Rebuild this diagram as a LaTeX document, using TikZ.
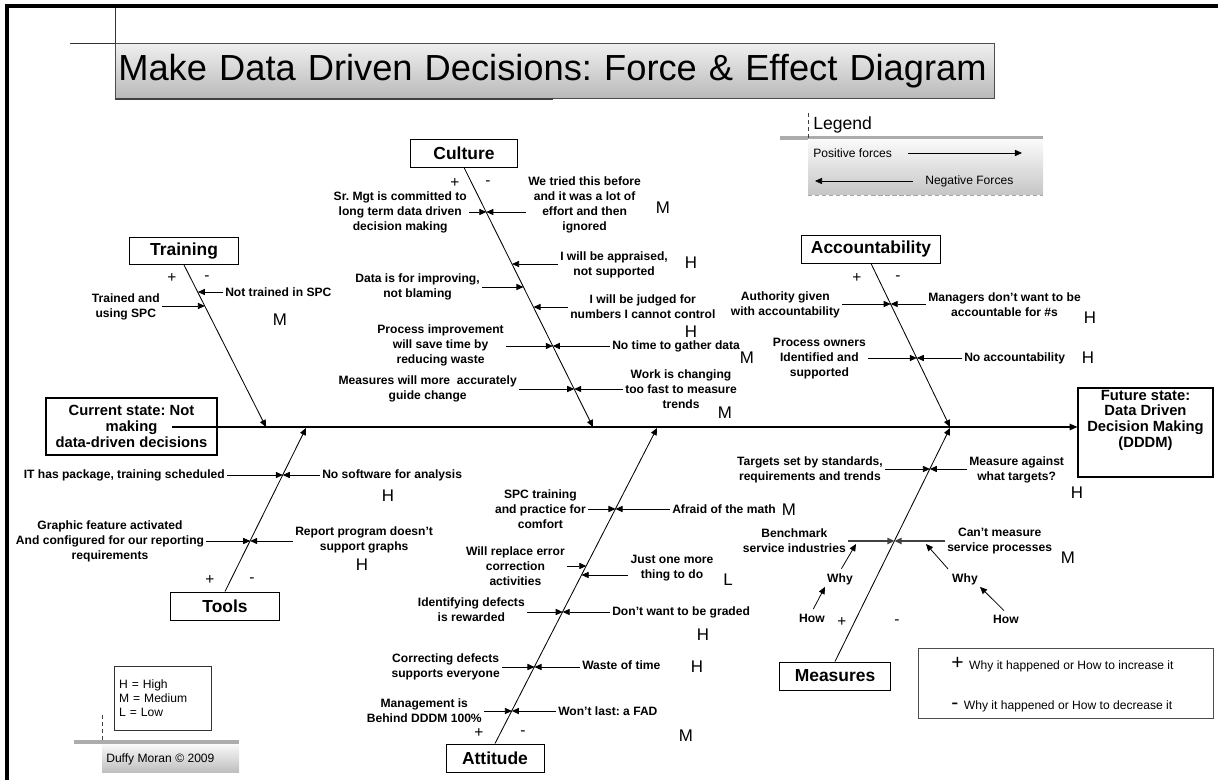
\documentclass[tikz,border=0pt]{standalone}
\usepackage{fontspec}
\setmainfont{Liberation Sans}
\usepackage{tikz}
\usetikzlibrary{arrows.meta,positioning,calc}
\frenchspacing

\newlength{\pxl}
\setlength{\pxl}{0.025cm}

\tikzset{
    titlebox/.style={anchor=north west, draw=gray!60!black, line width=0.5pt, top color=gray!12, bottom color=gray!55,
        minimum width=879\pxl, minimum height=55\pxl, text width=873\pxl, inner xsep=3\pxl, inner ysep=0pt,
        align=left, font=\fontsize{25.8}{30}\selectfont},
    catbox/.style={draw, line width=0.7pt, fill=white, inner sep=0pt, minimum height=28\pxl, font=\bfseries\fontsize{12.4}{14}\selectfont},
    statebox/.style={draw, line width=0.8pt, fill=white, inner sep=0pt, align=center, font=\bfseries\fontsize{10.5}{11.2}\selectfont},
    lbl/.style={inner sep=1.4pt, align=center, font=\bfseries\fontsize{8.6}{10.7}\selectfont},
    note/.style={inner sep=0pt, font=\fontsize{8.6}{10}\selectfont},
    rate/.style={inner sep=0pt, font=\fontsize{12}{14}\selectfont},
    sgn/.style={inner sep=0pt, font=\fontsize{11}{13}\selectfont},
    spine/.style={-{Triangle[length=5.5pt,width=4.6pt]}, line width=0.8pt},
    bone/.style={-{Triangle[length=5pt,width=4.4pt]}, line width=0.6pt},
    frc/.style={-{Triangle[length=5pt,width=4.4pt]}, line width=0.55pt},
}

\begin{document}
\begin{tikzpicture}[x=\pxl, y=-\pxl]
        \useasboundingbox (0,0) rectangle (1218,780);
        \draw[line width=2.2pt] (7,780) -- (7,6) -- (1218,6); % frame

        % title
        \node[titlebox] (ttl) at (115,43) {\mbox{Make Data Driven Decisions: Force \& Effect Diagram}};
        \draw[gray!40!black, line width=0.6pt] (70,43) -- (ttl.north west) -- (115,8);
        \draw[black!75, line width=1.4pt] (ttl.south west) -- ++(438,0);

        % legend
        \draw[gray!65, line width=2.8pt] (780,138) -- (1043,138);
        \shade[top color=gray!4, bottom color=gray!45] (808,140) rectangle (1043,195);
        \draw[densely dashed, gray!50!black, line width=0.4pt] (808,113) -- (808,140);
        \draw[densely dashed, gray!70, line width=0.4pt] (808,195) -- (1043,195);
        \node[anchor=west, inner sep=0pt, font=\fontsize{12.5}{14}\selectfont] (lgd) at (813,125) {Legend};
        \node[note, anchor=west] (pos) at (813,153) {Positive forces};
        \node[note, anchor=west] (neg) at (925,181) {Negative Forces};
        \coordinate (pa) at (1022,153);
        \coordinate (na) at (815,181);
        \draw[frc] (pos.east) ++(16,0) -- (pa);
        \draw[frc] (neg.west) ++(-12,0) -- (na);

        % categories
        \node[catbox, minimum width=107\pxl] (cul) at (464,153) {Culture};
        \node[catbox, minimum width=109\pxl, minimum height=27\pxl] (trn) at (184,251) {Training};
        \node[catbox, minimum width=139\pxl] (acc) at (871,249) {Accountability};
        \node[catbox, minimum width=109\pxl] (tls) at (225,606) {Tools};
        \node[catbox, minimum width=98\pxl] (att) at (495,758) {Attitude};
        \node[catbox, minimum width=111\pxl] (msr) at (835,676) {Measures};

        % current and future state
        \node[statebox, minimum width=171\pxl, minimum height=57\pxl] (cur) at (131.5,426.5) {Current state: Not\\making\\data-driven decisions};
        \node[statebox, minimum width=135\pxl, minimum height=89\pxl] (fut) at (1145.5,432.5) {};
        \node[statebox, draw=none, fill=none, anchor=north] (futt) at ([yshift=-2\pxl]fut.north) {Future state:\\Data Driven\\Decision Making\\(DDDM)};
        \coordinate (sp0) at (172,427);
        \draw[spine] (sp0) -- (fut.west |- sp0);

        % bones
        \coordinate (trnE) at (266,427);
        \coordinate (culE) at (593,427);
        \coordinate (accE) at (950,427);
        \coordinate (tlsE) at (306,428);
        \coordinate (attE) at (657,428);
        \coordinate (msrE) at (950,428);
        \draw[bone] (trn.south) -- (trnE);
        \draw[bone] (cul.south) -- (culE);
        \draw[bone] (acc.south) -- (accE);
        \draw[bone] (tls.north) -- (tlsE);
        \draw[bone] (att.north) -- (attE);
        \draw[bone] (msr.north) -- (msrE);

        % points on the bones
        \coordinate (c1) at (486.3,212);
        \coordinate (c2) at (512.1,264);
        \coordinate (c3) at (523.5,287);
        \coordinate (c4) at (533.5,307);
        \coordinate (c5) at (552.8,346);
        \coordinate (c6) at (574.2,389);
        \coordinate (t1) at (197.9,292);
        \coordinate (t2) at (204.9,306);
        \coordinate (a1) at (890.7,304);
        \coordinate (a2) at (916.8,358);
        \coordinate (o1) at (282.8,475);
        \coordinate (o2) at (250.2,541);
        \coordinate (k1) at (615.5,509);
        \coordinate (k2) at (586.3,566);
        \coordinate (k3) at (581.6,575);
        \coordinate (k4) at (562.7,612);
        \coordinate (k5) at (534.5,667);
        \coordinate (k6) at (511.9,711);
        \coordinate (m1) at (929.9,469);
        \coordinate (m2) at (894.5,541);

        % culture forces
        \node[lbl, anchor=east] (sr) at (469,212) {Sr. Mgt is committed to\\long term data driven\\decision making};
        \node[lbl, anchor=west] (wt) at (526,204.5) {We tried this before\\and it was a lot of\\effort and then\\ignored};
        \node[lbl, anchor=west] (app) at (558,264.5) {I will be appraised,\\not supported};
        \node[lbl, anchor=east] (dat) at (482,287) {Data is for improving,\\not blaming};
        \node[lbl, anchor=west] (jud) at (568,307) {I will be judged for\\numbers I cannot control};
        \node[lbl, anchor=east] (pim) at (506,345) {Process improvement\\will save time by\\reducing waste};
        \node[lbl, anchor=west] (ntg) at (610,346) {No time to gather data};
        \node[lbl, anchor=east] (mea) at (519,389) {Measures will more\ \ accurately\\guide change};
        \node[lbl, anchor=west] (wch) at (623,389) {Work is changing\\too fast to measure\\trends};
        \draw[frc] (sr.east |- c1) -- (c1);
        \draw[frc] (wt.west |- c1) -- (c1);
        \draw[frc] (app.west |- c2) -- (c2);
        \draw[frc] (dat.east |- c3) -- (c3);
        \draw[frc] (jud.west |- c4) -- (c4);
        \draw[frc] (pim.east |- c5) -- (c5);
        \draw[frc] (ntg.west |- c5) -- (c5);
        \draw[frc] (mea.east |- c6) -- (c6);
        \draw[frc] (wch.west |- c6) -- (c6);

        % training forces
        \node[lbl, anchor=east] (trd) at (162,306.5) {Trained and\\using SPC};
        \node[lbl, anchor=west] (ntr) at (223,292) {Not trained in SPC};
        \draw[frc] (trd.east |- t2) -- (t2);
        \draw[frc] (ntr.west |- t1) -- (t1);

        % tools forces
        \node[lbl, anchor=east] (itp) at (227,475) {IT has package, training scheduled};
        \node[lbl, anchor=west] (nsw) at (320,475) {No software for analysis};
        \node[lbl] (gfa) at (110,541) {Graphic feature activated\\And configured for our reporting\\requirements};
        \node[lbl, anchor=west] (rpd) at (293,540) {Report program doesn’t\\support graphs};
        \draw[frc] (itp.east |- o1) -- (o1);
        \draw[frc] (nsw.west |- o1) -- (o1);
        \draw[frc] (gfa.east |- o2) -- (o2);
        \draw[frc] (rpd.west |- o2) -- (o2);

        % attitude forces
        \node[lbl, anchor=east] (spc) at (588,509) {SPC training\\and practice for\\comfort};
        \node[lbl, anchor=west] (afr) at (670,509) {Afraid of the math};
        \node[lbl, anchor=east] (wre) at (567,566) {Will replace error\\correction\\activities};
        \node[lbl] (jom) at (672,568) {Just one more\\thing to do};
        \node[lbl, anchor=east] (idf) at (527,610) {Identifying defects\\is rewarded};
        \node[lbl, anchor=west] (dwg) at (610,612) {Don’t want to be graded};
        \node[lbl, anchor=east] (crd) at (502,667) {Correcting defects\\supports everyone};
        \node[lbl, anchor=west] (wot) at (580,665) {Waste of time};
        \node[lbl, anchor=east] (mgt) at (484,711) {Management is\\Behind DDDM 100\%};
        \node[lbl, anchor=west] (wlf) at (556,711) {Won’t last: a FAD};
        \draw[frc] (spc.east |- k1) -- (k1);
        \draw[frc] (afr.west |- k1) -- (k1);
        \draw[frc] (wre.east |- k2) -- (k2);
        \draw[frc] (jom.west |- k3) -- (k3);
        \draw[frc] (idf.east |- k4) -- (k4);
        \draw[frc] (dwg.west |- k4) -- (k4);
        \draw[frc] (crd.east |- k5) -- (k5);
        \draw[frc] (wot.west |- k5) -- (k5);
        \draw[frc] (mgt.east |- k6) -- (k6);
        \draw[frc] (wlf.west |- k6) -- (k6);

        % accountability forces
        \node[lbl, anchor=east] (aut) at (842,305) {Authority given\\with accountability};
        \node[lbl, anchor=west] (mgr) at (926,305) {Managers don’t want to be\\accountable for \#s};
        \node[lbl, anchor=east] (pow) at (868,359) {Process owners\\Identified and\\supported};
        \node[lbl, anchor=west] (noa) at (962,358) {No accountability};
        \draw[frc] (aut.east |- a1) -- (a1);
        \draw[frc] (mgr.west |- a1) -- (a1);
        \draw[frc] (pow.east |- a2) -- (a2);
        \draw[frc] (noa.west |- a2) -- (a2);

        % measures forces
        \node[lbl, anchor=east] (tgt) at (885,470) {Targets set by standards,\\requirements and trends};
        \node[lbl, anchor=west] (mag) at (967,469.5) {Measure against\\what targets?};
        \node[lbl, anchor=east] (bmk) at (848,541) {Benchmark\\service industries};
        \node[lbl, anchor=west] (cms) at (945,541) {Can’t measure\\service processes};
        \draw[frc] (tgt.east |- m1) -- (m1);
        \draw[frc] (mag.west |- m1) -- (m1);
        \draw[frc, line width=0.9pt, black!75] (bmk.east |- m2) -- (m2);
        \draw[frc, line width=0.9pt, black!75] (cms.west |- m2) -- (m2);
        \node[lbl] (why1) at (840,579) {Why};
        \node[lbl] (how1) at (812,618) {How};
        \node[lbl] (why2) at (965,579) {Why};
        \node[lbl] (how2) at (1006,619) {How};
        \coordinate (w1) at (856,544);
        \coordinate (w2) at (926,544);
        \draw[frc, shorten <=2pt] (why1.north) -- (w1);
        \draw[frc, shorten <=2pt] (how1.north) -- (why1.south west);
        \draw[frc, shorten <=2pt] (why2.north west) -- (w2);
        \draw[frc, shorten <=2pt] (how2.north) -- (why2.south east);

        % ratings
        \node[rate] (r1) at (663,208) {M};
        \node[rate] (r2) at (691,263) {H};
        \node[rate] (r3) at (691,332) {H};
        \node[rate] (r4) at (747,358) {M};
        \node[rate] (r5) at (725,413) {M};
        \node[rate] (r6) at (280,320) {M};
        \node[rate] (r7) at (1090,318) {H};
        \node[rate] (r8) at (1088,358) {H};
        \node[rate] (r9) at (388,496) {H};
        \node[rate] (r10) at (362,565) {H};
        \node[rate] (r11) at (789,510) {M};
        \node[rate] (r12) at (728,580) {L};
        \node[rate] (r13) at (703,635) {H};
        \node[rate] (r14) at (697,667) {H};
        \node[rate] (r15) at (686,736) {M};
        \node[rate] (r16) at (1077,493) {H};
        \node[rate] (r17) at (1068,558) {M};

        % plus and minus sides
        \node[sgn] (pc) at (455,183) {+};
        \node[sgn] (mc) at (488,183) {-};
        \node[sgn] (pt) at (172,278) {+};
        \node[sgn] (mt) at (207,278) {-};
        \node[sgn] (pa2) at (857,278) {+};
        \node[sgn] (ma2) at (898,278) {-};
        \node[sgn] (po) at (210,580) {+};
        \node[sgn] (mo) at (252,580) {-};
        \node[sgn] (pk) at (479,733) {+};
        \node[sgn] (mk) at (523,733) {-};
        \node[sgn] (pm) at (842,622) {+};
        \node[sgn] (mm) at (897,622) {-};

        % key for + and -
        \node[draw=black!70, line width=0.6pt, minimum width=295\pxl, minimum height=70\pxl] (key) at (1065.5,683) {};
        \node[note, anchor=west] (kyp) at (951,665) {{\fontsize{15}{15}\selectfont +}\hspace{4pt}Why it happened or How to increase it};
        \node[note, anchor=west] (kym) at (951,706) {{\fontsize{15}{15}\selectfont -}\hspace{4pt}Why it happened or How to decrease it};

        % rating key
        \node[draw=black!80, line width=0.6pt, minimum width=96\pxl, minimum height=64\pxl, text width=88\pxl,
            align=left, font=\fontsize{8.6}{10}\selectfont] (hml) at (163,698) {H = High\\M = Medium\\L = Low};

        % credit
        \draw[gray!65, line width=2.8pt] (74,742) -- (239,742);
        \shade[top color=gray!5, bottom color=gray!50] (102,744) rectangle (239,772);
        \draw[densely dashed, gray!50!black, line width=0.4pt] (102,715) -- (102,742);
        \node[note, anchor=west] (cpy) at (106,759) {Duffy Moran © 2009};
\end{tikzpicture}
\end{document}
